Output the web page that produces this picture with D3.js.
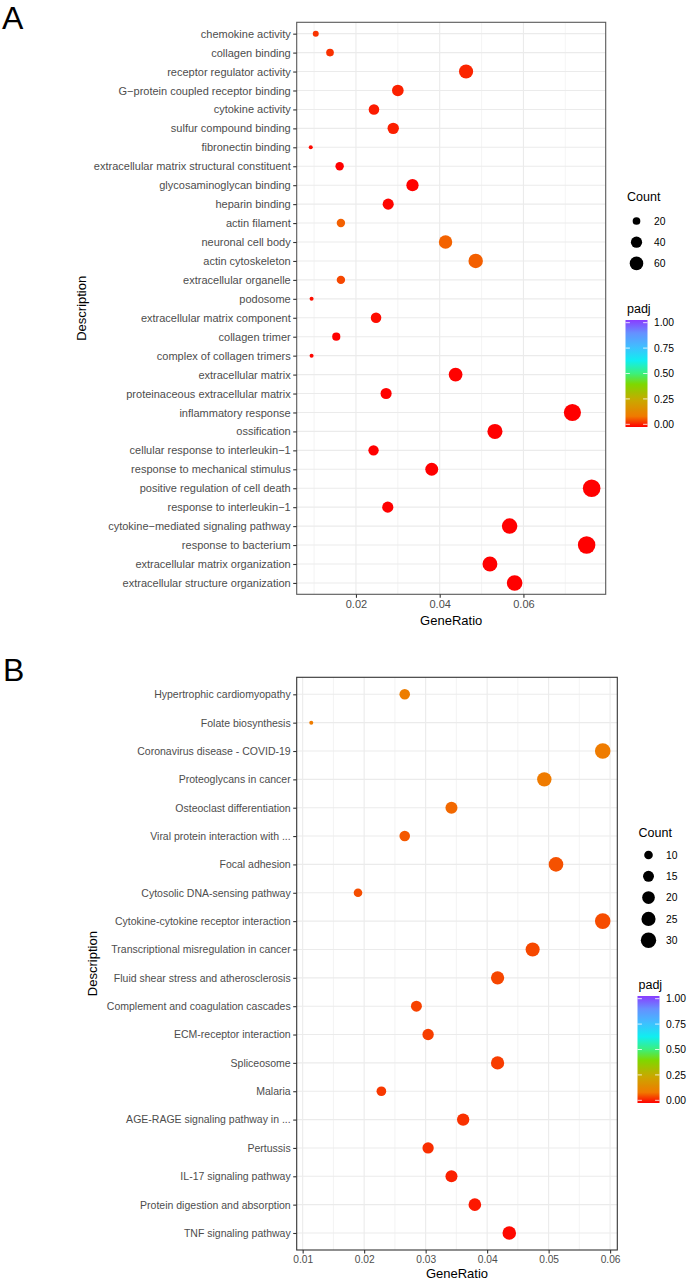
<!DOCTYPE html>
<html><head><meta charset="utf-8">
<script src="https://cdn.jsdelivr.net/npm/d3@7"></script>
<style>
body{margin:0;background:#fff}
svg{display:block}
text{font-family:"Liberation Sans",Arial,Helvetica,sans-serif}
</style>
</head><body>
<svg id="chart" width="688" height="1282"></svg>
<script>
// ---------- Panel A (GO) data, top to bottom ----------
const goTerms = [
  "chemokine activity","collagen binding","receptor regulator activity",
  "G\u2212protein coupled receptor binding","cytokine activity","sulfur compound binding",
  "fibronectin binding","extracellular matrix structural constituent","glycosaminoglycan binding",
  "heparin binding","actin filament","neuronal cell body","actin cytoskeleton",
  "extracellular organelle","podosome","extracellular matrix component","collagen trimer",
  "complex of collagen trimers","extracellular matrix","proteinaceous extracellular matrix",
  "inflammatory response","ossification","cellular response to interleukin\u22121",
  "response to mechanical stimulus","positive regulation of cell death","response to interleukin\u22121",
  "cytokine\u2212mediated signaling pathway","response to bacterium","extracellular matrix organization",
  "extracellular structure organization"
];
const goRatio = [0.0104,0.0138,0.0463,0.0300,0.0243,0.0289,0.0092,0.0161,0.0335,0.0277,
                 0.0164,0.0414,0.0486,0.0164,0.0094,0.0248,0.0153,0.0094,0.0438,0.0272,
                 0.0717,0.0532,0.0242,0.0381,0.0763,0.0276,0.0567,0.0751,0.0520,0.0579];
const goCount = [15,20,66,43,35,41,13,23,48,39,
                 23,59,69,23,13,35,22,13,62,39,
                 102,76,34,54,108,39,81,107,74,82];
const goPadj  = [0.042,0.040,0.030,0.027,0.022,0.025,0.008,0.001,0.002,0.004,
                 0.079,0.080,0.078,0.058,0.012,0.010,0.001,0.005,0.0005,0.001,
                 0.0001,0.0001,0.0002,0.0001,0.0001,0.0002,0.0001,0.0001,0.0001,0.0001];
const goXTicks = [0.02,0.04,0.06];
const goXMinor = [0.01,0.03,0.05,0.07];
const goCountBreaks = [20,40,60];

// ---------- Panel B (KEGG) data, top to bottom ----------
const keggTerms = [
  "Hypertrophic cardiomyopathy","Folate biosynthesis","Coronavirus disease - COVID-19",
  "Proteoglycans in cancer","Osteoclast differentiation","Viral protein interaction with ...",
  "Focal adhesion","Cytosolic DNA-sensing pathway","Cytokine-cytokine receptor interaction",
  "Transcriptional misregulation in cancer","Fluid shear stress and atherosclerosis",
  "Complement and coagulation cascades","ECM-receptor interaction","Spliceosome","Malaria",
  "AGE-RAGE signaling pathway in ...","Pertussis","IL-17 signaling pathway",
  "Protein digestion and absorption","TNF signaling pathway"
];
const keggRatio = [0.0266,0.0114,0.0588,0.0493,0.0342,0.0266,0.0512,0.0190,0.0588,0.0474,
                   0.0417,0.0285,0.0304,0.0417,0.0228,0.0361,0.0304,0.0342,0.0380,0.0436];
const keggCount = [14,6,31,26,18,14,27,10,31,25,22,15,16,22,12,19,16,18,20,23];
const keggPadj  = [0.110,0.108,0.105,0.102,0.085,0.072,0.066,0.064,0.062,0.059,
                   0.057,0.054,0.052,0.050,0.046,0.040,0.038,0.026,0.020,0.007];
const keggXTicks = [0.01,0.02,0.03,0.04,0.05,0.06];
const keggXMinor = [0.015,0.025,0.035,0.045,0.055];
const keggCountBreaks = [10,15,20,25,30];

const padjTicks = [0,0.25,0.5,0.75,1];

// ---------- shared styles ----------
const colorStops = [0,0.1,0.25,0.4,0.5,0.62,0.75,0.88,1];
const colorRange = ['#FF0000','#F07A00','#C9A800','#7ED800','#3CF07C','#10EEF0','#40BEFF','#6690FF','#8A3CFF'];
const color = d3.scaleLinear().domain(colorStops).range(colorRange).interpolate(d3.interpolateRgb);

const svg = d3.select('#chart');
const defs = svg.append('defs');

function expand(ext){ const d=(ext[1]-ext[0])*0.05; return [ext[0]-d, ext[1]+d]; }

function drawPanel(o){
  const g = svg.append('g');
  const x = d3.scaleLinear().domain(expand(d3.extent(o.ratio))).range([o.l,o.r]);
  const y = d3.scalePoint().domain(o.terms).range([o.t,o.b]).padding(0.6);
  const cmin = d3.min(o.count), cmax = d3.max(o.count);
  const sz = d3.scaleSqrt().domain([0,cmax-cmin]).range([0,o.rmax-o.rmin]);
  const radius = c => o.rmin + sz(Math.max(0,c-cmin));

  g.append('rect').attr('x',o.l).attr('y',o.t).attr('width',o.r-o.l).attr('height',o.b-o.t).attr('fill','#fff');
  // grid
  g.selectAll('.mn').data(o.minor).join('line')
    .attr('x1',d=>x(d)).attr('x2',d=>x(d)).attr('y1',o.t).attr('y2',o.b)
    .attr('stroke','#EFEFEF').attr('stroke-width',0.7);
  g.selectAll('.mj').data(o.xTicks).join('line')
    .attr('x1',d=>x(d)).attr('x2',d=>x(d)).attr('y1',o.t).attr('y2',o.b)
    .attr('stroke','#EBEBEB').attr('stroke-width',1.1);
  g.selectAll('.hy').data(o.terms).join('line')
    .attr('x1',o.l).attr('x2',o.r).attr('y1',d=>y(d)).attr('y2',d=>y(d))
    .attr('stroke','#EBEBEB').attr('stroke-width',1.1);
  // points
  g.selectAll('.pt').data(o.terms.map((t,i)=>({t,r:o.ratio[i],c:o.count[i],p:o.padj[i]}))).join('circle')
    .attr('cx',d=>x(d.r)).attr('cy',d=>y(d.t)).attr('r',d=>radius(d.c))
    .attr('fill',d=>color(d.p));
  // border
  g.append('rect').attr('x',o.l).attr('y',o.t).attr('width',o.r-o.l).attr('height',o.b-o.t)
    .attr('fill','none').attr('stroke',o.border).attr('stroke-width',1.1);
  // axes
  const ya = g.append('g').attr('transform',`translate(${o.l},0)`)
    .call(d3.axisLeft(y).tickSize(3.5).tickPadding(2.5));
  ya.select('.domain').remove();
  ya.selectAll('line').attr('stroke','#333').attr('stroke-width',1.1);
  ya.selectAll('text').attr('fill','#4D4D4D').style('font-size',o.fs+'px')
    .style('font-family','"Liberation Sans",Arial,sans-serif');
  const xa = g.append('g').attr('transform',`translate(0,${o.b})`)
    .call(d3.axisBottom(x).tickValues(o.xTicks).tickFormat(d3.format('.2f')).tickSize(3.5).tickPadding(2.2));
  xa.select('.domain').remove();
  xa.selectAll('line').attr('stroke','#333').attr('stroke-width',1.1);
  xa.selectAll('text').attr('fill','#4D4D4D').style('font-size',o.xfs+'px')
    .style('font-family','"Liberation Sans",Arial,sans-serif');
  // titles
  g.append('text').attr('x',(o.l+o.r)/2).attr('y',o.xTitleY).attr('text-anchor','middle')
    .style('font-size','13px').attr('fill','#000').text('GeneRatio');
  g.append('text').attr('transform',`translate(${o.yTitleX},${(o.t+o.b)/2}) rotate(-90)`)
    .attr('text-anchor','middle').style('font-size','13px').attr('fill','#000').text('Description');
  g.append('text').attr('x',o.letterX).attr('y',o.letterY).style('font-size','32px').attr('fill','#000').text(o.letter);

  // legend: Count
  const L = o.legend;
  g.append('text').attr('x',L.titleX).attr('y',L.countTitleY).style('font-size','12.5px').text('Count');
  o.breaks.forEach((b,i)=>{
    const yy = L.dotY0 + i*L.dotStep;
    g.append('circle').attr('cx',L.dotX).attr('cy',yy).attr('r',radius(b)).attr('fill','#000');
    g.append('text').attr('x',L.labX).attr('y',yy).attr('dy','0.36em').style('font-size','10.3px').text(b);
  });
  // legend: padj colorbar
  g.append('text').attr('x',L.titleX).attr('y',L.padjTitleY).style('font-size','12.5px').text('padj');
  const gid = 'grad'+o.letter;
  const grad = defs.append('linearGradient').attr('id',gid).attr('x1',0).attr('x2',0).attr('y1',1).attr('y2',0);
  d3.range(0,1.0001,0.02).forEach(v=>grad.append('stop').attr('offset',v).attr('stop-color',color(v)));
  const cb = d3.scaleLinear().domain([0,1]).range([L.barTop+L.barH-L.barH/40, L.barTop+L.barH/40]);
  g.append('rect').attr('x',L.barX).attr('y',L.barTop).attr('width',L.barW).attr('height',L.barH)
    .attr('fill',`url(#${gid})`);
  padjTicks.forEach(v=>{
    const yy = cb(v);
    g.append('line').attr('x1',L.barX).attr('x2',L.barX+L.barW/5).attr('y1',yy).attr('y2',yy).attr('stroke','#fff').attr('stroke-width',0.8);
    g.append('line').attr('x1',L.barX+L.barW*4/5).attr('x2',L.barX+L.barW).attr('y1',yy).attr('y2',yy).attr('stroke','#fff').attr('stroke-width',0.8);
    g.append('text').attr('x',L.labX).attr('y',yy).attr('dy','0.36em').style('font-size','10.3px').text(d3.format('.2f')(v));
  });
}

drawPanel({
  letter:'A', letterX:2, letterY:29,
  terms:goTerms, ratio:goRatio, count:goCount, padj:goPadj,
  xTicks:goXTicks, minor:goXMinor, breaks:goCountBreaks,
  l:296.7, r:605.7, t:22.3, b:594.3, border:'#595959',
  fs:11, xfs:11, rmin:2.0, rmax:8.8,
  xTitleY:624.5, yTitleX:85.6,
  legend:{titleX:627, countTitleY:201, dotX:636.5, labX:654, dotY0:221, dotStep:21.2,
          padjTitleY:313, barX:625.5, barW:22, barTop:320, barH:107}
});

drawPanel({
  letter:'B', letterX:3, letterY:680.5,
  terms:keggTerms, ratio:keggRatio, count:keggCount, padj:keggPadj,
  xTicks:keggXTicks, minor:keggXMinor, breaks:keggCountBreaks,
  l:296.7, r:617.3, t:677.3, b:1250, border:'#333333',
  fs:10.5, xfs:10.2, rmin:2.0, rmax:7.8,
  xTitleY:1278, yTitleX:96.6,
  legend:{titleX:638.5, countTitleY:836.5, dotX:648.5, labX:666, dotY0:855, dotStep:21.3,
          padjTitleY:989, barX:637.5, barW:22, barTop:996, barH:107}
});
</script>
</body></html>
